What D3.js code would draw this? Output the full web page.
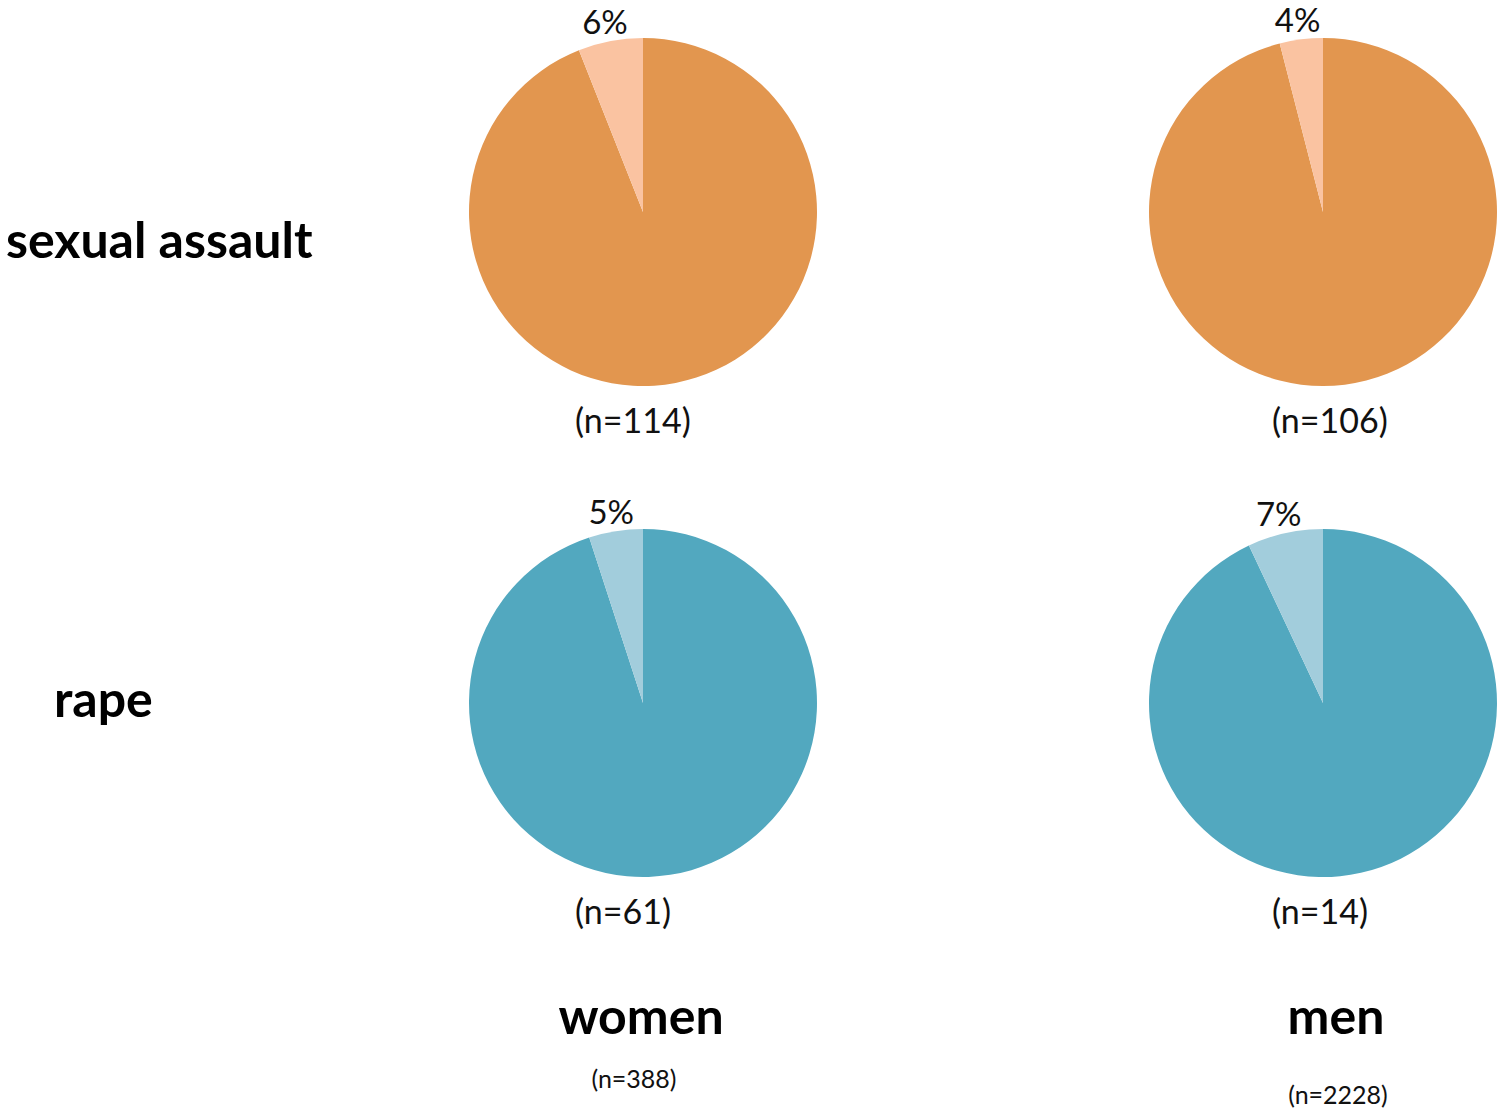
<!DOCTYPE html>
<html><head><meta charset="utf-8">
<script src="https://cdn.jsdelivr.net/npm/d3@7"></script>
<style>body{margin:0;background:#fff}text{font-family:Lato,"Open Sans",sans-serif}</style>
</head><body>
<svg id="c" width="1501" height="1111"></svg>
<script>
const rows = ["sexual assault", "rape"];
const cols = ["women", "men"];
const colTotals = ["(n=388)", "(n=2228)"];
// share (%) of the small slice, by row then column
const shares = [[6, 4], [5, 7]];
const counts = [["(n=114)", "(n=106)"], ["(n=61)", "(n=14)"]];
const mainColors = ["#E2964F", "#52A8BF"];
const lightColors = ["#FAC3A1", "#A2CDDC"];

const svg = d3.select("#c");
const x = d3.scalePoint().domain(cols).range([643, 1323]);
const y = d3.scalePoint().domain(rows).range([212, 703]);
const R = 174;
const arc = d3.arc().innerRadius(0).outerRadius(R);
const labelArc = d3.arc().innerRadius(203).outerRadius(203);
const pie = d3.pie().sort(null).value(d => d.v);
const countShift = [-68, -51];

rows.forEach((r, ri) => {
  cols.forEach((c, ci) => {
    const p = shares[ri][ci];
    const data = [{v: 100 - p, col: mainColors[ri]}, {v: p, col: lightColors[ri], lab: p + "%"}];
    const g = svg.append("g").attr("transform", `translate(${x(c)},${y(r)})`);
    const arcs = pie(data);
    g.selectAll("path").data(arcs).join("path").attr("d", arc).attr("fill", d => d.data.col);
    const s = arcs[1];
    const [lx, ly] = labelArc.centroid(s);
    g.append("text").attr("x", lx).attr("y", ly + 21).attr("text-anchor", "middle")
      .attr("font-size", 33).attr("fill", "#111").text(s.data.lab);
    g.append("text").attr("x", countShift[ci]).attr("y", R + 47).attr("text-anchor", "start")
      .attr("font-size", 34).attr("fill", "#111").text(counts[ri][ci]);
  });
});

svg.append("text").attr("x", 6).attr("y", 258).attr("font-size", 50).attr("font-weight", "bold")
  .attr("fill", "#000").text(rows[0]);
svg.append("text").attr("x", 54).attr("y", 717).attr("font-size", 50).attr("font-weight", "bold")
  .attr("fill", "#000").text(rows[1]);

cols.forEach((c, ci) => {
  const cx = ci === 0 ? x(c) - 2 : x(c) + 13;
  svg.append("text").attr("x", cx).attr("y", 1034).attr("text-anchor", "middle")
    .attr("font-size", 50).attr("font-weight", "bold").attr("fill", "#000").text(c);
  svg.append("text").attr("x", ci === 0 ? cx - 7 : cx + 2).attr("y", ci === 0 ? 1088 : 1104).attr("text-anchor", "middle")
    .attr("font-size", 25).attr("fill", "#111").text(colTotals[ci]);
});
</script>
</body></html>
